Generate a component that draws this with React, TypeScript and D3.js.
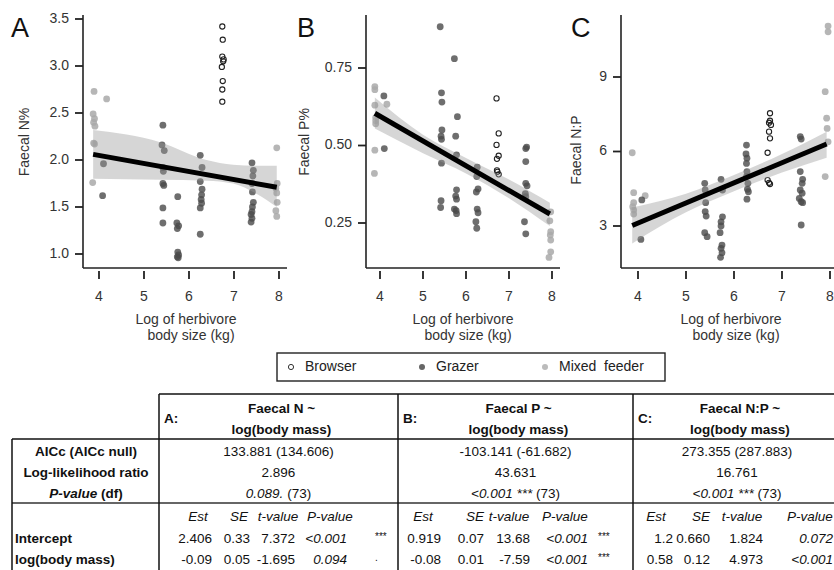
import React from "react";
import * as d3 from "d3";

type Pt = [number, number];

// ---------- Panel A: Faecal N% ----------
const browserA: Pt[] = [[6.74,3.42],[6.75,3.28],[6.74,3.10],[6.77,3.07],[6.76,3.05],[6.73,2.99],[6.75,2.84],[6.74,2.75],[6.74,2.62]];
const grazerA: Pt[] = [[4.1,1.96],[4.08,1.62],
  [5.42,2.37],[5.4,2.16],[5.45,2.10],[5.42,1.92],[5.43,1.88],[5.42,1.75],[5.44,1.73],[5.42,1.49],[5.42,1.33],
  [5.75,1.61],[5.73,1.33],[5.77,1.30],[5.74,1.27],[5.75,1.02],[5.77,0.99],[5.74,0.97],[5.76,0.96],
  [6.25,2.05],[6.29,1.92],[6.25,1.77],[6.29,1.69],[6.28,1.63],[6.27,1.58],[6.28,1.54],[6.25,1.49],[6.25,1.21],
  [7.4,1.97],[7.43,1.89],[7.42,1.83],[7.4,1.75],[7.41,1.66],[7.43,1.55],[7.41,1.50],[7.4,1.45],[7.38,1.42],[7.4,1.38],[7.38,1.34]];
const mixedA: Pt[] = [[3.89,2.73],[4.17,2.65],[3.87,2.49],[3.9,2.44],[3.88,2.40],[3.91,2.36],[3.88,2.18],[3.9,2.17],[3.86,1.76],
  [7.95,2.13],[7.96,1.75],[7.93,1.70],[7.95,1.65],[7.96,1.55],[7.93,1.46],[7.95,1.40]];
const fitA: Pt[] = [[3.87,2.06],[7.95,1.71]];
const bandAx = [3.87, 5.36, 6.39, 6.98, 7.5, 7.95];
const bandAUpper = [2.32, 2.19, 2.00, 1.95, 1.94, 1.94];
const bandALower = [1.80, 1.79, 1.78, 1.75, 1.64, 1.50];
const ticksA = [1.0, 1.5, 2.0, 2.5, 3.0, 3.5];

// ---------- Panel B: Faecal P% ----------
const browserB: Pt[] = [[6.71,0.652],[6.76,0.539],[6.71,0.502],[6.76,0.467],[6.72,0.457],[6.72,0.42],[6.73,0.415],[6.76,0.407]];
const grazerB: Pt[] = [[4.09,0.66],[4.1,0.49],
  [5.4,0.883],[5.43,0.67],[5.44,0.64],[5.44,0.55],[5.42,0.53],[5.43,0.52],[5.43,0.443],[5.42,0.322],[5.41,0.30],
  [5.73,0.78],[5.8,0.593],[5.76,0.53],[5.78,0.47],[5.78,0.357],[5.76,0.337],[5.78,0.327],[5.73,0.295],[5.77,0.29],[5.78,0.28],
  [6.26,0.43],[6.25,0.40],[6.24,0.35],[6.28,0.36],[6.26,0.295],[6.28,0.283],[6.23,0.254],[6.25,0.233],
  [7.41,0.495],[7.39,0.49],[7.39,0.448],[7.39,0.378],[7.42,0.37],[7.38,0.345],[7.39,0.335],[7.36,0.254],[7.39,0.215]];
const mixedB: Pt[] = [[3.88,0.69],[3.88,0.68],[3.88,0.63],[4.16,0.633],[3.9,0.59],[3.9,0.58],[3.9,0.57],[3.88,0.485],[3.87,0.41],
  [7.97,0.286],[7.95,0.257],[7.97,0.222],[7.96,0.211],[7.97,0.195],[7.97,0.157],[7.93,0.139]];
const fitB: Pt[] = [[3.88,0.604],[7.95,0.279]];
const bandBx = [3.88, 5.0, 6.0, 7.0, 7.95];
const bandBUpper = [0.655, 0.535, 0.46, 0.39, 0.315];
const bandBLower = [0.555, 0.475, 0.41, 0.33, 0.24];
const ticksB = [0.25, 0.50, 0.75];

// ---------- Panel C: Faecal N:P ----------
const browserC: Pt[] = [[6.75,7.54],[6.75,7.24],[6.73,7.16],[6.77,7.07],[6.73,6.80],[6.75,6.53],[6.7,5.95],[6.7,4.85],[6.73,4.74],[6.75,4.69]];
const grazerC: Pt[] = [[4.08,4.05],[4.06,2.46],
  [5.39,4.72],[5.4,4.45],[5.41,3.94],[5.4,3.58],[5.42,3.40],[5.39,2.73],[5.44,2.57],
  [5.73,4.88],[5.76,4.45],[5.76,3.37],[5.73,3.17],[5.73,3.0],[5.71,2.73],[5.75,2.23],[5.73,2.10],[5.75,1.92],[5.72,1.74],
  [6.26,6.26],[6.25,5.90],[6.27,5.73],[6.26,5.52],[6.27,5.19],[6.26,4.99],[6.29,4.72],[6.28,4.48],[6.3,4.38],[6.27,4.08],
  [7.38,6.6],[7.4,6.5],[7.38,5.19],[7.43,4.88],[7.42,4.72],[7.38,4.45],[7.42,4.32],[7.36,4.11],[7.4,3.98],[7.43,3.94],[7.4,3.04]];
const mixedC: Pt[] = [[3.88,5.95],[3.91,4.34],[3.91,3.94],[3.89,3.78],[3.91,3.64],[3.91,3.48],[4.15,4.22],
  [7.96,11.05],[7.96,10.82],[7.9,8.41],[7.93,7.34],[7.94,6.93],[7.96,6.39],[7.9,4.99]];
const fitC: Pt[] = [[3.88,3.02],[7.93,6.3]];
const bandCx = [3.88, 5.0, 6.0, 7.0, 7.93];
const bandCUpper = [3.75, 4.3, 5.05, 5.9, 6.8];
const bandCLower = [2.3, 3.55, 4.4, 5.15, 5.75];
const ticksC = [3, 6, 9];

const xTicks = [4, 5, 6, 7, 8];
const xTitle = ["Log of herbivore", "body size (kg)"];
const legendLabels = ["Browser", "Grazer", "Mixed  feeder"];

// ---------- Table ----------
const colLetters = ["A:", "B:", "C:"];
const colResponses = ["Faecal N ~", "Faecal P ~", "Faecal N:P ~"];
const colPredictor = "log(body mass)";
const rowLabels = ["AICc (AICc null)", "Log-likelihood ratio", "P-value"];
const aiccValues = ["133.881 (134.606)", "-103.141 (-61.682)", "273.355 (287.883)"];
const llrValues = ["2.896", "43.631", "16.761"];
const pValues = ["0.089.", "<0.001 ***", "<0.001 ***"];
const dfValues = ["(73)", "(73)", "(73)"];
const coefHeaders = ["Est", "SE", "t-value", "P-value"];
const coefRows = ["Intercept", "log(body mass)"];
const interceptValues = [["2.406","0.33","7.372","<0.001","***"],["0.919","0.07","13.68","<0.001","***"],["1.2","0.660","1.824","0.072",""]];
const slopeValues = [["-0.09","0.05","-1.695","0.094","."],["-0.08","0.01","-7.59","<0.001","***"],["0.58","0.12","4.973","<0.001",""]];

const FONT = "'Liberation Sans', Arial, Helvetica, sans-serif";

interface PanelProps {
  letter: string; letterX: number;
  yLabel: string; yLabelX: number; yLabelY: number;
  axisX: number; xRange: [number, number]; xEnd: number;
  yDomain: [number, number]; yRange: [number, number];
  ticks: number[]; fmt: string;
  browser: Pt[]; grazer: Pt[]; mixed: Pt[]; fit: Pt[];
  bx: number[]; bu: number[]; bl: number[];
}

const TOP = 15, BOTTOM = 268;

function Panel(p: PanelProps) {
  const x = d3.scaleLinear().domain([4, 8]).range(p.xRange);
  const y = d3.scaleLinear().domain(p.yDomain).range(p.yRange);
  const idx = p.bx.map((_, i) => i);
  const area = d3.area<number>()
    .x(i => x(p.bx[i])).y0(i => y(p.bl[i])).y1(i => y(p.bu[i]))
    .curve(d3.curveMonotoneX);
  const line = d3.line<Pt>().x(d => x(d[0])).y(d => y(d[1]));
  const f = d3.format(p.fmt);
  const xMid = (p.xRange[0] + p.xRange[1]) / 2;
  return (
    <g fontFamily={FONT}>
      <text x={p.letterX} y={37} fontSize={27} fill="#111">{p.letter}</text>
      <text transform={`translate(${p.yLabelX},${p.yLabelY}) rotate(-90)`} textAnchor="middle"
        dominantBaseline="middle" fontSize={14} fill="#333">{p.yLabel}</text>
      {p.mixed.map((d, i) => (
        <circle key={"m" + i} cx={x(d[0])} cy={y(d[1])} r={3.4} fill="#a9a9a9" fillOpacity={0.85} />
      ))}
      {p.grazer.map((d, i) => (
        <circle key={"g" + i} cx={x(d[0])} cy={y(d[1])} r={3.4} fill="#4a4a4a" fillOpacity={0.8} />
      ))}
      {p.browser.map((d, i) => (
        <circle key={"b" + i} cx={x(d[0])} cy={y(d[1])} r={2.6} fill="none" stroke="#222" strokeWidth={1.1} />
      ))}
      <path d={area(idx) || ""} fill="#999" fillOpacity={0.4} />
      <path d={line(p.fit) || ""} stroke="#000" strokeWidth={5} fill="none" />
      <line x1={p.axisX} x2={p.axisX} y1={TOP} y2={BOTTOM} stroke="#222" strokeWidth={1.6} />
      <line x1={p.axisX} x2={p.xEnd} y1={BOTTOM} y2={BOTTOM} stroke="#222" strokeWidth={1.6} />
      {p.ticks.map(t => (
        <g key={"yt" + t}>
          <line x1={p.axisX - 8} x2={p.axisX} y1={y(t)} y2={y(t)} stroke="#222" strokeWidth={1.8} />
          <text x={p.axisX - 14} y={y(t)} textAnchor="end" dominantBaseline="middle" fontSize={14} fill="#333">{f(t)}</text>
        </g>
      ))}
      {xTicks.map(t => (
        <g key={"xt" + t}>
          <line x1={x(t)} x2={x(t)} y1={BOTTOM + 3} y2={BOTTOM + 11} stroke="#222" strokeWidth={1.8} />
          <text x={x(t)} y={297} textAnchor="middle" dominantBaseline="middle" fontSize={14} fill="#333">{t}</text>
        </g>
      ))}
      <text x={xMid - 3} y={320} textAnchor="middle" dominantBaseline="middle" fontSize={14} fill="#333">{xTitle[0]}</text>
      <text x={xMid + 2} y={336} textAnchor="middle" dominantBaseline="middle" fontSize={14} fill="#333">{xTitle[1]}</text>
    </g>
  );
}

function Legend() {
  const xs = [291, 422, 545];
  return (
    <g fontFamily={FONT}>
      <rect x={277} y={353} width={388} height={28} fill="none" stroke="#222" strokeWidth={1.4} />
      <circle cx={xs[0]} cy={367} r={2.6} fill="none" stroke="#333" strokeWidth={1} />
      <circle cx={xs[1]} cy={367} r={3} fill="#666" />
      <circle cx={xs[2]} cy={367} r={3} fill="#bbb" />
      {legendLabels.map((l, i) => (
        <text key={l} x={xs[i] + 14} y={367} dominantBaseline="middle" fontSize={14} fill="#222"
          style={{ whiteSpace: "pre" }}>{l}</text>
      ))}
    </g>
  );
}

function Table() {
  const colX = [159, 398, 633];
  const colR = [398, 633, 841];
  // header centres and value right edges for Est, SE, t-value, P-value; then star x
  const hdrC = [[198, 239, 278, 330], [423, 475, 509, 565], [656, 701, 742, 810]];
  const valEnd = [[212, 250, 295, 347], [441, 484, 530, 588], [673, 710, 763, 833]];
  const starX = [375, 598, 840];
  const fs = 13.5;
  const rowY = [452, 473, 494];
  const estY = 517, intY = 539, slopeY = 560;
  return (
    <g fontFamily={FONT} fontSize={fs} fill="#111">
      <line x1={159} x2={834} y1={394} y2={394} stroke="#111" strokeWidth={1.5} />
      <line x1={12} x2={834} y1={439} y2={439} stroke="#111" strokeWidth={1.5} />
      <line x1={12} x2={834} y1={503} y2={503} stroke="#666" strokeWidth={2.2} />
      <line x1={12} x2={12} y1={439} y2={570} stroke="#111" strokeWidth={1.5} />
      {colX.map(cx => <line key={cx} x1={cx} x2={cx} y1={394} y2={570} stroke="#111" strokeWidth={1.5} />)}
      <text x={86} y={rowY[0]} textAnchor="middle" dominantBaseline="middle" fontWeight="bold">{rowLabels[0]}</text>
      <text x={86} y={rowY[1]} textAnchor="middle" dominantBaseline="middle" fontWeight="bold">{rowLabels[1]}</text>
      <text x={86} y={rowY[2]} textAnchor="middle" dominantBaseline="middle" fontWeight="bold">
        <tspan fontStyle="italic">{rowLabels[2]}</tspan><tspan> (df)</tspan>
      </text>
      <text x={15} y={intY} dominantBaseline="middle" fontWeight="bold">{coefRows[0]}</text>
      <text x={15} y={slopeY} dominantBaseline="middle" fontWeight="bold">{coefRows[1]}</text>
      {colX.map((cx, c) => {
        const mid = (cx + colR[c]) / 2;
        return (
          <g key={"col" + c}>
            <text x={cx + 5} y={419} dominantBaseline="middle" fontWeight="bold">{colLetters[c]}</text>
            <text x={mid + 3} y={409} textAnchor="middle" dominantBaseline="middle" fontWeight="bold">{colResponses[c]}</text>
            <text x={mid + 3} y={430} textAnchor="middle" dominantBaseline="middle" fontWeight="bold">{colPredictor}</text>
            <text x={mid} y={rowY[0]} textAnchor="middle" dominantBaseline="middle">{aiccValues[c]}</text>
            <text x={mid} y={rowY[1]} textAnchor="middle" dominantBaseline="middle">{llrValues[c]}</text>
            <text x={mid} y={rowY[2]} textAnchor="middle" dominantBaseline="middle">
              <tspan fontStyle="italic">{pValues[c]}</tspan><tspan> {dfValues[c]}</tspan>
            </text>
            {coefHeaders.map((h, k) => (
              <text key={h} x={hdrC[c][k]} y={estY} textAnchor="middle" dominantBaseline="middle" fontStyle="italic">{h}</text>
            ))}
            {[interceptValues[c], slopeValues[c]].map((row, r) => (
              <g key={"r" + r}>
                {row.slice(0, 4).map((v, k) => (
                  <text key={k} x={valEnd[c][k]} y={r === 0 ? intY : slopeY} textAnchor="end" dominantBaseline="middle"
                    fontStyle={k === 3 ? "italic" : "normal"}>{v}</text>
                ))}
                {row[4] ? (
                  <text x={starX[c]} y={(r === 0 ? intY : slopeY) - 2} dominantBaseline="middle" fontSize={10}>{row[4]}</text>
                ) : null}
              </g>
            ))}
          </g>
        );
      })}
    </g>
  );
}

export default function App() {
  return (
    <svg width={834} height={570} style={{ position: "fixed", left: 0, top: 0, background: "#fff" }}>
      <rect width={834} height={570} fill="#fff" />
      <Panel letter="A" letterX={11} yLabel="Faecal N%" yLabelX={25} yLabelY={142}
        axisX={83} xRange={[99, 279]} xEnd={287} yDomain={[1.0, 3.5]} yRange={[254, 19]}
        ticks={ticksA} fmt=".1f" browser={browserA} grazer={grazerA} mixed={mixedA} fit={fitA}
        bx={bandAx} bu={bandAUpper} bl={bandALower} />
      <Panel letter="B" letterX={297} yLabel="Faecal P%" yLabelX={305} yLabelY={142}
        axisX={366} xRange={[380, 552]} xEnd={560} yDomain={[0.25, 0.75]} yRange={[223, 68]}
        ticks={ticksB} fmt=".2f" browser={browserB} grazer={grazerB} mixed={mixedB} fit={fitB}
        bx={bandBx} bu={bandBUpper} bl={bandBLower} />
      <Panel letter="C" letterX={571} yLabel="Faecal N:P" yLabelX={577} yLabelY={150}
        axisX={621} xRange={[638, 830]} xEnd={834} yDomain={[3, 9]} yRange={[226, 77]}
        ticks={ticksC} fmt="d" browser={browserC} grazer={grazerC} mixed={mixedC} fit={fitC}
        bx={bandCx} bu={bandCUpper} bl={bandCLower} />
      <Legend />
      <Table />
    </svg>
  );
}
